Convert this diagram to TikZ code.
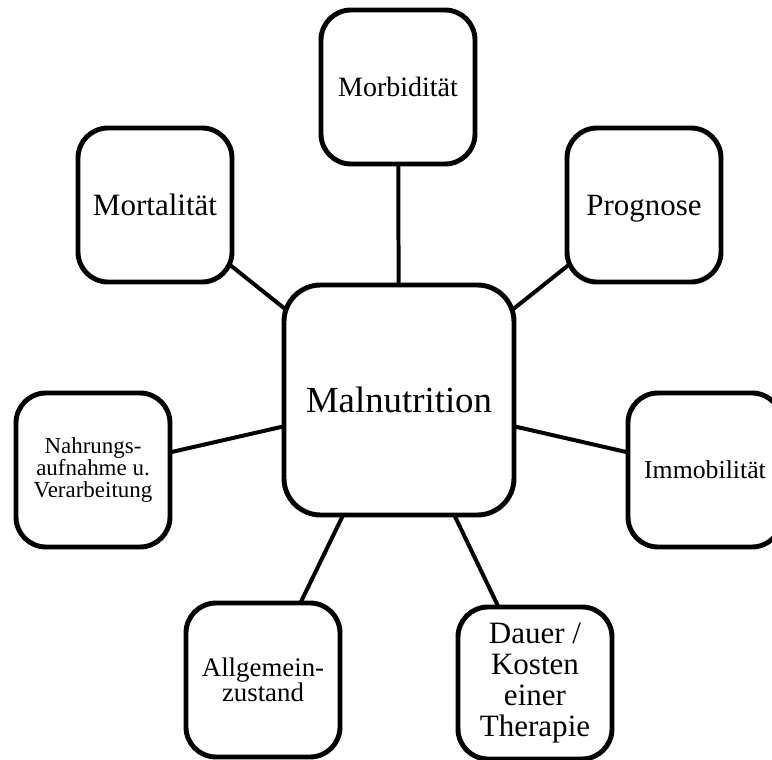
\documentclass[tikz,border=0pt]{standalone}
\usepackage{fontspec}
\setmainfont{Liberation Serif}
\usetikzlibrary{backgrounds}

\begin{document}
\begin{tikzpicture}[x=0.03cm, y=-0.03cm,
    box/.style={draw, line width=4.2pt, rounded corners=0.9cm, fill=white,
      minimum width=4.62cm, minimum height=4.62cm, align=center, inner sep=1pt},
    link/.style={line width=3.4pt}]
  \clip (0,0) rectangle (772,760);

  % Mitte
  \node[box, minimum width=6.9cm, minimum height=6.9cm, rounded corners=1.1cm,
    font={\fontsize{31.4}{33}\selectfont}] (malnut) at (399,400) {Malnutrition};

  % oben
  \node[box, font={\fontsize{23.9}{25}\selectfont}] (morbid) at (398,87) {Morbidität};
  \node[box, font={\fontsize{26.5}{28}\selectfont}] (mortal) at (155,205) {Mortalität};
  \node[box, text depth=0pt, font={\fontsize{26.4}{28}\selectfont}] (progn) at (644,205) {Prognose};

  % seitlich
  \node[box, font={\fontsize{19.6}{19}\selectfont}] (nahrung) at (93,470) {Nahrungs-\\aufnahme u.\\Verarbeitung};
  \node[box, font={\fontsize{22}{23}\selectfont}] (immob) at (705,470) {Immobilität};

  % unten
  \node[box, font={\fontsize{22.9}{21}\selectfont}] (allg) at (263,680) {Allgemein-\\zustand};
  \node[box, minimum height=4.56cm, font={\fontsize{26.5}{26.5}\selectfont}] (dauer) at (535,683) {Dauer /\\Kosten\\einer\\Therapie};

  % Verbindungen
  \begin{scope}[on background layer]
    \draw[link] (malnut.center) -- (morbid.center);
    \draw[link] (malnut.center) -- (mortal.center);
    \draw[link] (malnut.center) -- (progn.center);
    \draw[link] (malnut.center) -- (nahrung.center);
    \draw[link] (malnut.center) -- (immob.center);
    \draw[link] (malnut.center) -- (allg.center);
    \draw[link] (malnut.center) -- (dauer.center);
  \end{scope}
\end{tikzpicture}
\end{document}
